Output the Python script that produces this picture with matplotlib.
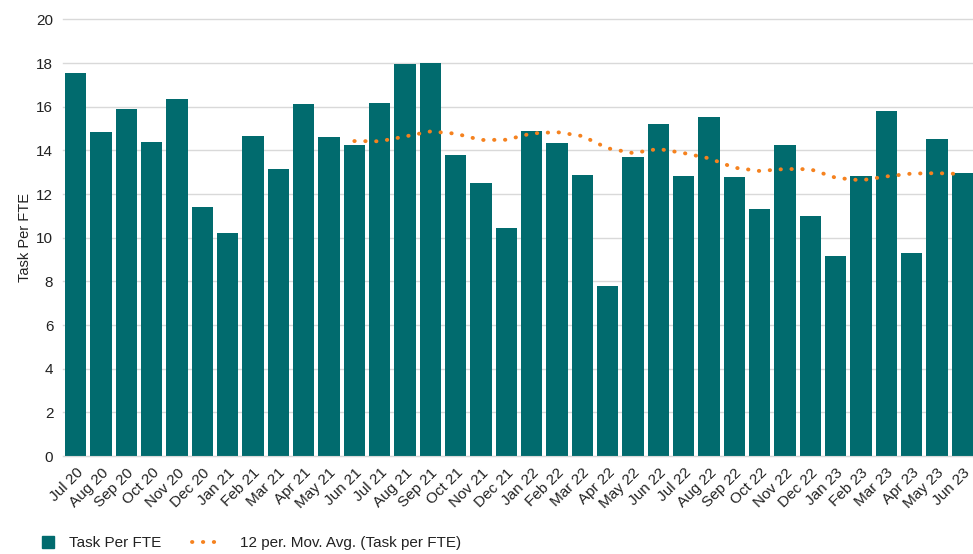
import matplotlib.pyplot as plt
from matplotlib.lines import Line2D

plt.rcParams['font.family'] = ['Liberation Sans', 'DejaVu Sans']

# Monthly values
months = ["Jul 20", "Aug 20", "Sep 20", "Oct 20", "Nov 20", "Dec 20",
          "Jan 21", "Feb 21", "Mar 21", "Apr 21", "May 21", "Jun 21",
          "Jul 21", "Aug 21", "Sep 21", "Oct 21", "Nov 21", "Dec 21",
          "Jan 22", "Feb 22", "Mar 22", "Apr 22", "May 22", "Jun 22",
          "Jul 22", "Aug 22", "Sep 22", "Oct 22", "Nov 22", "Dec 22",
          "Jan 23", "Feb 23", "Mar 23", "Apr 23", "May 23", "Jun 23"]
task_per_fte = [17.53, 14.83, 15.88, 14.37, 16.34, 11.40,
                10.20, 14.65, 13.13, 16.11, 14.60, 14.23,
                16.16, 17.94, 17.99, 13.78, 12.49, 10.43,
                14.87, 14.32, 12.86, 7.78, 13.68, 15.19,
                12.81, 15.51, 12.77, 11.30, 14.23, 10.98,
                9.15, 12.81, 15.79, 9.29, 14.51, 12.95]

# 12 period moving average as drawn (starts at Jun 21)
ma_start = 11
moving_avg = [14.43, 14.42, 14.64, 14.87, 14.77, 14.48, 14.49,
              14.78, 14.84, 14.66, 14.10, 13.88, 14.07, 13.88,
              13.64, 13.21, 13.06, 13.15, 13.14, 12.75, 12.63,
              12.81, 12.94, 12.96, 12.92]

teal = "#016b6e"
orange = "#f5821f"
dots = (0, (0.1, 2.7))

fig = plt.figure(figsize=(9.73, 5.54), dpi=100)
ax = fig.add_axes([63 / 973, 1 - 456 / 554, 912 / 973, (456 - 19.5) / 554])

x = list(range(len(months)))
ax.bar(x, task_per_fte, width=0.83, color=teal, zorder=2)
ma_x = x[ma_start:ma_start + len(moving_avg)]
ax.plot(ma_x, moving_avg, color=orange, linewidth=2.8,
        linestyle=dots, dash_capstyle="round", zorder=3)

ax.set_ylim(0, 20)
ax.set_xlim(-0.5, len(months) - 0.5)
ax.set_yticks(range(0, 21, 2))
ax.yaxis.grid(True, color="#d9d9d9", linewidth=1)
for gl in ax.get_ygridlines():
    gl.set_clip_on(False)
ax.set_axisbelow(True)
for s in ["top", "right", "left"]:
    ax.spines[s].set_visible(False)
ax.spines["bottom"].set_color("#d9d9d9")
ax.tick_params(axis="both", length=0, labelsize=11, colors="#222222")
ax.tick_params(axis="y", pad=7)
ax.set_xticks(x)
ax.set_xticklabels(months, rotation=45, ha="right", rotation_mode="anchor")
ax.tick_params(axis="x", pad=7)
ax.set_ylabel("Task Per FTE", fontsize=10.5, color="#222222", labelpad=3)

# legend entries, placed like the original (two separate blocks)
bar_handle = Line2D([0], [0], color=teal, marker="s", markersize=8, linestyle="none",
                    label="Task Per FTE")
ma_handle = Line2D([0], [0], color=orange, linewidth=2.8, linestyle=dots,
                   dash_capstyle="round", label="12 per. Mov. Avg. (Task per FTE)")
leg_kw = dict(loc="center left", frameon=False, fontsize=11, handlelength=1.83,
              borderpad=0, borderaxespad=0, labelcolor="#222222")
fig.legend(handles=[bar_handle], bbox_to_anchor=(34 / 973, 11 / 554),
           handletextpad=0.46, **leg_kw)
fig.legend(handles=[ma_handle], bbox_to_anchor=(192 / 973, 11 / 554),
           handletextpad=1.3, **leg_kw)

fig.savefig("out.png", dpi=100)
